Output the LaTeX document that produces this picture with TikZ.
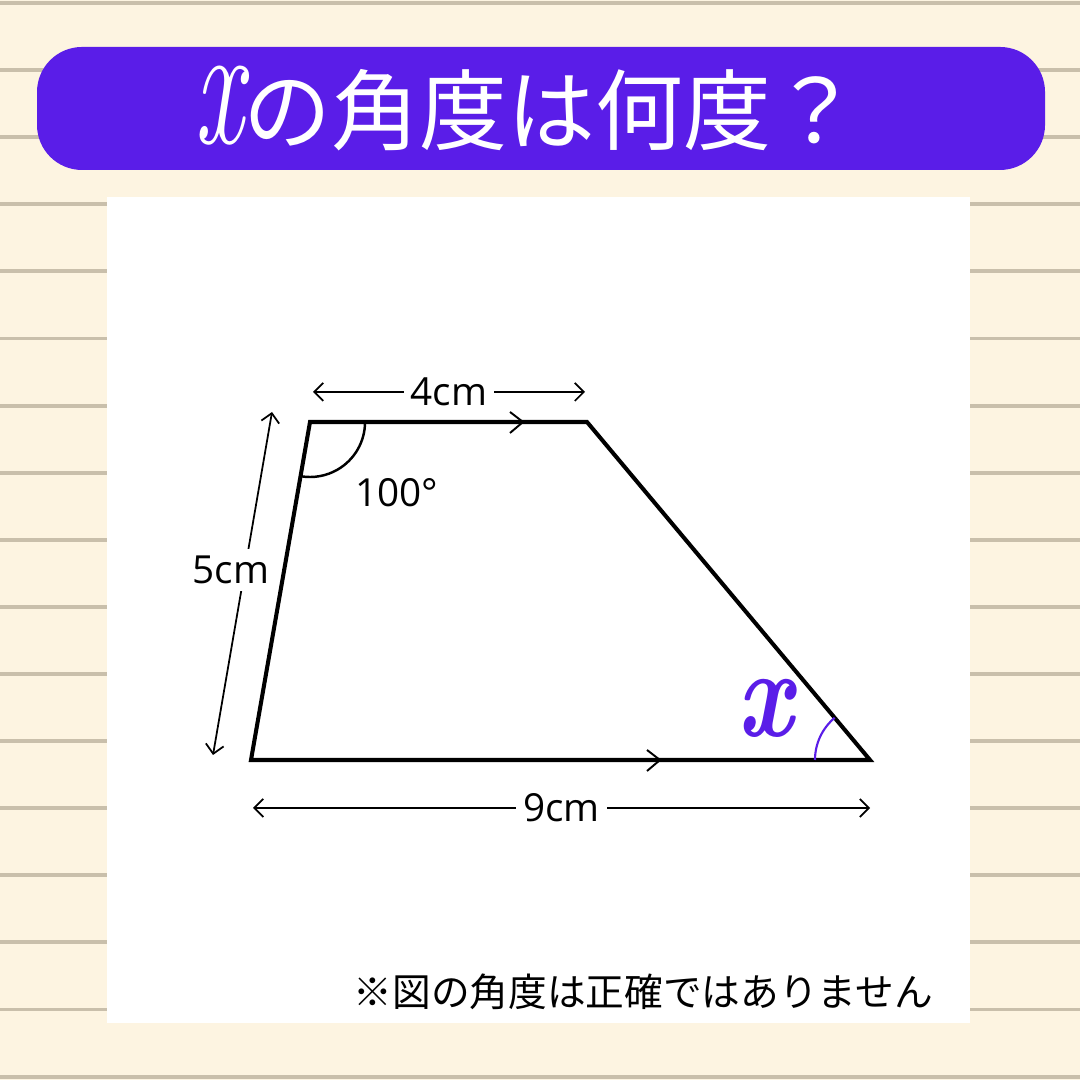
\documentclass[tikz,border=0pt]{standalone}
\usepackage{graphicx}
\usepackage{fontspec}
\setmainfont{Open Sans}
\newfontfamily\jpfont{Noto Sans CJK JP}
\newfontfamily\xfont{Latin Modern Roman}
\usetikzlibrary{arrows.meta}

\definecolor{cream}{HTML}{FDF4E1}
\definecolor{ruled}{HTML}{C9BFAB}
\definecolor{banner}{HTML}{5A1DE8}

\begin{document}
\begin{tikzpicture}[
  x=0.01cm, y=0.01cm,
  side/.style={line width=1.15pt, line join=miter},
  dim/.style={line width=0.5pt, {Straight Barb[length=0.9mm,width=1.8mm]}-{Straight Barb[length=0.9mm,width=1.8mm]}},
  lbl/.style={fill=white, inner sep=2pt, font=\fontsize{11}{11}\selectfont},
  tick/.style={line width=0.55pt},
  ruleline/.style={ruled, line width=1.1pt}
]
  \useasboundingbox (0,0) rectangle (1080,1080);

  % paper
  \fill[cream] (0,0) rectangle (1080,1080);
  \foreach \k in {0,...,16}
    \draw[ruleline] (0,{1077-67.1*\k}) -- (1080,{1077-67.1*\k});
  \fill[white] (107,57) rectangle (970,883);

  % title
  \fill[banner, rounded corners=0.45cm] (37,910) rectangle (1045,1033);
  \node[text=white, font=\fontsize{25}{25}\selectfont] (title) at (527,971.5)
    {\scalebox{0.62}[1]{\xfont\itshape\fontsize{50}{50}\selectfont x}\jpfont の角度は何度？};

  % corners
  \coordinate (tl) at (310,658);
  \coordinate (tr) at (587,658);
  \coordinate (br) at (870,320);
  \coordinate (bl) at (251,320);

  % sides
  \draw[side] (tl) -- (tr) -- (br) -- (bl) -- cycle;
  \draw[tick] (510,668) -- (523,658) -- (510,647);
  \draw[tick] (647,330) -- (660,320) -- (647,309);

  % angles
  \draw[line width=0.7pt] (tl) ++(0:0.55cm) arc[start angle=0, end angle=-99.9, radius=0.55cm];
  \node[lbl, fill=none] (a100) at (397,587) {100°};
  \draw[banner, line width=0.6pt] (br) ++(180:0.55cm) arc[start angle=180, end angle=129.94, radius=0.55cm];
  \node[text=banner] (ax) at (765,372) {\scalebox{0.78}[1]{\xfont\bfseries\itshape\fontsize{36}{36}\selectfont x}};

  % lengths
  \coordinate (d4a) at (313,688);
  \coordinate (d4b) at (585,688);
  \coordinate (d5a) at (213,325);
  \coordinate (d5b) at (272,668);
  \coordinate (d9a) at (253,272);
  \coordinate (d9b) at (870,272);
  \draw[dim] (d4a) -- node[lbl] (l4) {4cm} (d4b);
  \draw[dim] (d5a) -- (d5b);
  \node[lbl] (l5) at (231,510) {5cm};
  \draw[dim] (d9a) -- node[lbl] (l9) {9cm} (d9b);

  % note
  \node[anchor=west, inner sep=0pt, font=\jpfont\fontsize{11}{11}\selectfont] (note) at (353,88)
    {※図の角度は正確ではありません};
\end{tikzpicture}
\end{document}
